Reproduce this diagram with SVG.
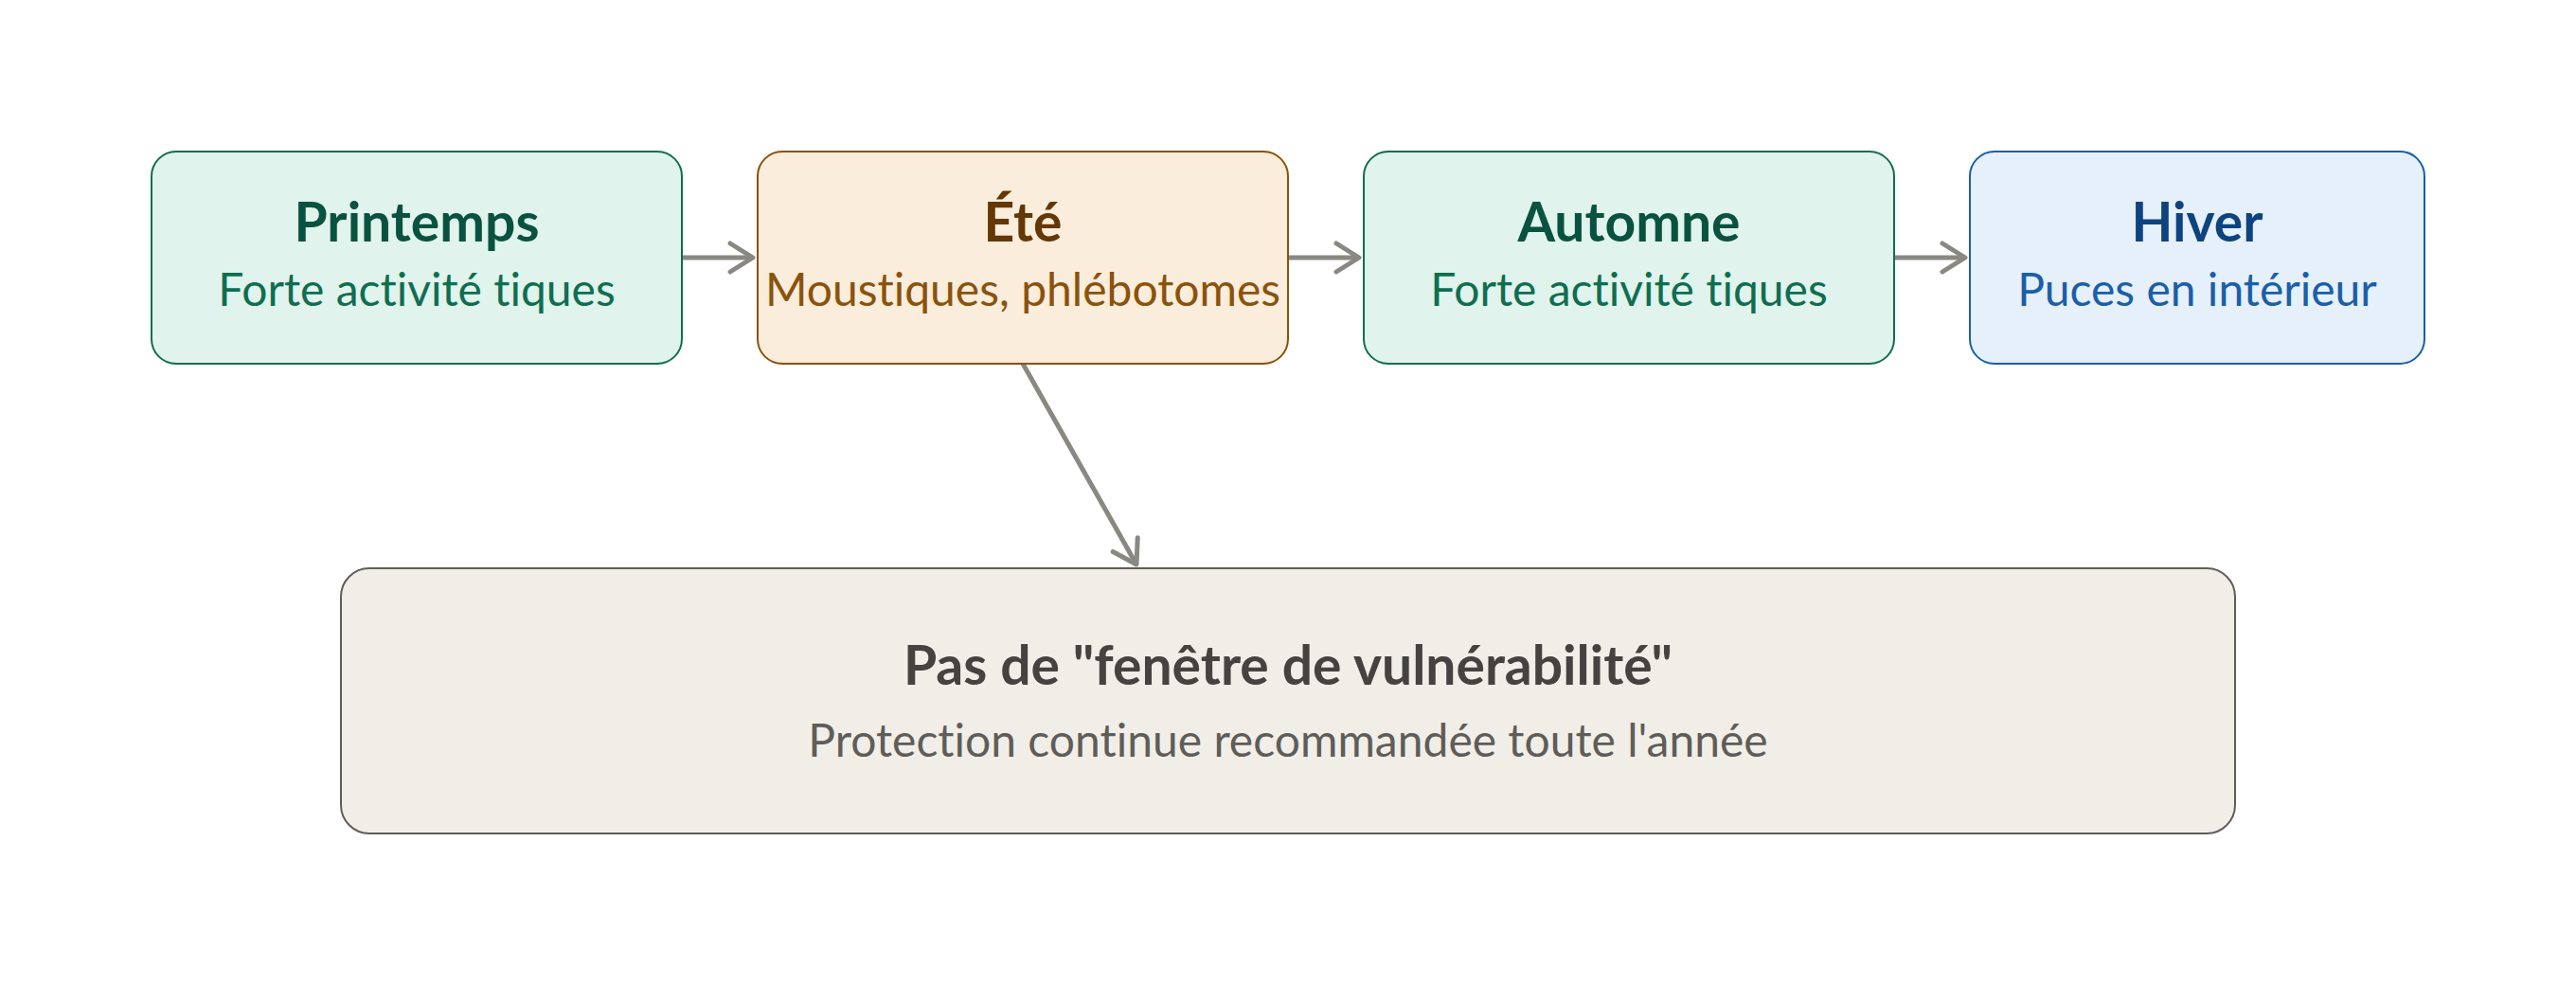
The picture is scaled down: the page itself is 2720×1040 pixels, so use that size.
<svg xmlns="http://www.w3.org/2000/svg" width="2720" height="1040" viewBox="0 0 2720 1040">
<style>
.box{stroke-width:2}
text{font-variant-ligatures:none;font-feature-settings:"liga" 0,"clig" 0}
.t{font-family:Lato,"Noto Sans","DejaVu Sans",sans-serif;font-weight:700;font-size:57px;text-anchor:middle}
.s{font-family:Lato,"Noto Sans","DejaVu Sans",sans-serif;font-weight:400;font-size:48px;text-anchor:middle}
.green rect{fill:#e0f3ec;stroke:#0f6e50}
.green .t{fill:#0a5240}
.green .s{fill:#0f6e50}
.orange rect{fill:#fbeddb;stroke:#8a5209}
.orange .t{fill:#653705}
.orange .s{fill:#8b520c}
.blue rect{fill:#e6f0fa;stroke:#1a5fa8}
.blue .t{fill:#0d4480}
.blue .s{fill:#1a5fa8}
.grey rect{fill:#f1eee8;stroke:#5f5d59}
.grey .t{fill:#45433f}
.grey .s{fill:#5f5d59}
.edge{stroke:#8a8883;stroke-width:5;fill:none;marker-end:url(#arr)}
</style>
<defs>
<marker id="arr" markerUnits="userSpaceOnUse" viewBox="-30 -20 34 40" refX="0" refY="0" markerWidth="34" markerHeight="40" orient="auto">
<path d="M-24,-15 L0,0 L-24,15" fill="none" stroke="#8a8883" stroke-width="5" stroke-linecap="round" stroke-linejoin="round"/>
</marker>
</defs>
<rect width="2720" height="1040" fill="#ffffff"/>
<g id="connectors">
<line class="edge" x1="720" y1="272" x2="795" y2="272"/>
<line class="edge" x1="1360" y1="272" x2="1435" y2="272"/>
<line class="edge" x1="2000" y1="272" x2="2075" y2="272"/>
<line class="edge" x1="1080" y1="384" x2="1200" y2="596"/>
</g>
<g id="printemps" class="green">
<rect class="box" x="160" y="160" width="560" height="224" rx="26"/>
<text class="t" x="440" y="255">Printemps</text>
<text class="s" x="440" y="323">Forte activité tiques</text>
</g>
<g id="ete" class="orange">
<rect class="box" x="800" y="160" width="560" height="224" rx="26"/>
<text class="t" x="1080" y="255">Été</text>
<text class="s" x="1080" y="323">Moustiques, phlébotomes</text>
</g>
<g id="automne" class="green">
<rect class="box" x="1440" y="160" width="560" height="224" rx="26"/>
<text class="t" x="1720" y="255">Automne</text>
<text class="s" x="1720" y="323">Forte activité tiques</text>
</g>
<g id="hiver" class="blue">
<rect class="box" x="2080" y="160" width="480" height="224" rx="26"/>
<text class="t" x="2320" y="255">Hiver</text>
<text class="s" x="2320" y="323">Puces en intérieur</text>
</g>
<g id="conclusion" class="grey">
<rect class="box" x="360" y="600" width="2000" height="280" rx="30"/>
<text class="t" x="1360" y="723">Pas de "fenêtre de vulnérabilité"</text>
<text class="s" x="1360" y="799">Protection continue recommandée toute l'année</text>
</g>
</svg>
